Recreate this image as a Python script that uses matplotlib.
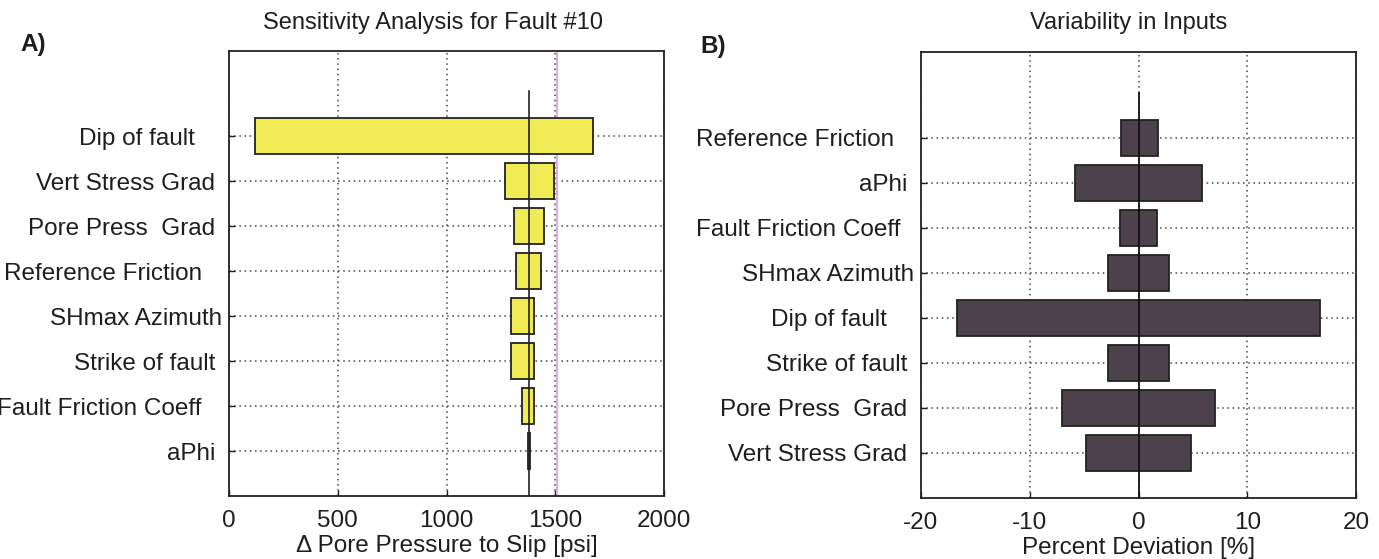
import matplotlib
matplotlib.use("Agg")
import matplotlib.pyplot as plt

plt.rcParams['font.family'] = ['Liberation Sans', 'DejaVu Sans']

# Panel A: sensitivity of pore pressure to slip (psi), low/high per input
sens_labels = ["Dip of fault    ", "Vert Stress Grad ", "Pore Press  Grad ",
               "Reference Friction   ", "SHmax Azimuth", "Strike of fault ",
               "Fault Friction Coeff   ", "aPhi "]
sens_low = [120, 1270, 1310, 1320, 1295, 1295, 1345, 1376]
sens_high = [1675, 1495, 1450, 1435, 1400, 1400, 1400, 1386]
base_dp = 1380
critical_dp = 1510

# Panel B: variability of inputs (percent deviation), low/high per input
var_labels = ["Reference Friction   ", "aPhi ", "Fault Friction Coeff  ",
              "SHmax Azimuth", "Dip of fault    ", "Strike of fault ",
              "Pore Press  Grad ", "Vert Stress Grad "]
var_low = [-1.6, -5.8, -1.7, -2.8, -16.7, -2.8, -7.0, -4.8]
var_high = [1.8, 5.8, 1.7, 2.8, 16.7, 2.8, 7.0, 4.8]

sens_xticks = [0, 500, 1000, 1500, 2000]
var_xticks = [-20, -10, 0, 10, 20]

FS = 17.5
INK = "#1e1e1e"
W, H = 1379, 559
fig = plt.figure(figsize=(W / 100, H / 100), dpi=100)

axA = fig.add_axes([229 / W, 1 - 496 / H, 435 / W, 445 / H])
axB = fig.add_axes([921 / W, 1 - 498 / H, 435 / W, 446 / H])

grid_style = dict(color="#444444", linestyle=(0, (1, 2.4)), linewidth=1.1)


def style_axis(ax, labels, xticks, xlim):
    n = len(labels)
    ypos = list(range(n, 0, -1))
    ax.set_xlim(*xlim)
    ax.set_ylim(0, n + 1.9)
    ax.set_xticks(xticks)
    ax.set_xticklabels([str(t) for t in xticks], fontsize=FS, color=INK)
    ax.set_yticks(ypos)
    ax.set_yticklabels(labels, fontsize=FS, color=INK)
    ax.tick_params(direction="in", length=4, width=1, pad=5, colors=INK)
    ax.tick_params(axis="x", pad=10)
    ax.grid(True, **grid_style)
    ax.set_axisbelow(True)
    for s in ax.spines.values():
        s.set_linewidth(1.3)
        s.set_color("#222222")
    return ypos


yA = style_axis(axA, sens_labels, sens_xticks, (0, 2000))
widths = [h - l for l, h in zip(sens_low, sens_high)]
axA.barh(yA, widths, left=sens_low, height=0.8, color="#f1eb55",
         edgecolor="#222222", linewidth=1.3, zorder=3)
axA.plot([base_dp, base_dp], [0, 9], color="#222222", linewidth=1.2, zorder=4)
axA.axvline(critical_dp, color="#dcaee6", linewidth=1.6, zorder=2)
axA.set_xlabel("Δ Pore Pressure to Slip [psi]", fontsize=FS, labelpad=2,
               color=INK)

yB = style_axis(axB, var_labels, var_xticks, (-20, 20))
widthsB = [h - l for l, h in zip(var_low, var_high)]
axB.barh(yB, widthsB, left=var_low, height=0.8, color="#4d414c",
         edgecolor="#222222", linewidth=1.3, zorder=3)
axB.plot([0, 0], [0, 9], color="#111111", linewidth=1.3, zorder=4)
axB.set_xlabel("Percent Deviation [%]", fontsize=FS, labelpad=2, color=INK)

fig.text(433 / W, 1 - 23 / H, "Sensitivity Analysis for Fault #10",
         ha="center", va="center", fontsize=FS - 0.5, color=INK)
fig.text(1129 / W, 1 - 23 / H, "Variability in Inputs",
         ha="center", va="center", fontsize=FS - 0.5, color=INK)
fig.text(20 / W, 1 - 45 / H, "A)", ha="left", va="center",
         fontsize=FS, fontweight="bold", color=INK)
fig.text(700 / W, 1 - 46 / H, "B)", ha="left", va="center",
         fontsize=FS, fontweight="bold", color=INK)

fig.savefig("out.png", dpi=100, facecolor="white")
